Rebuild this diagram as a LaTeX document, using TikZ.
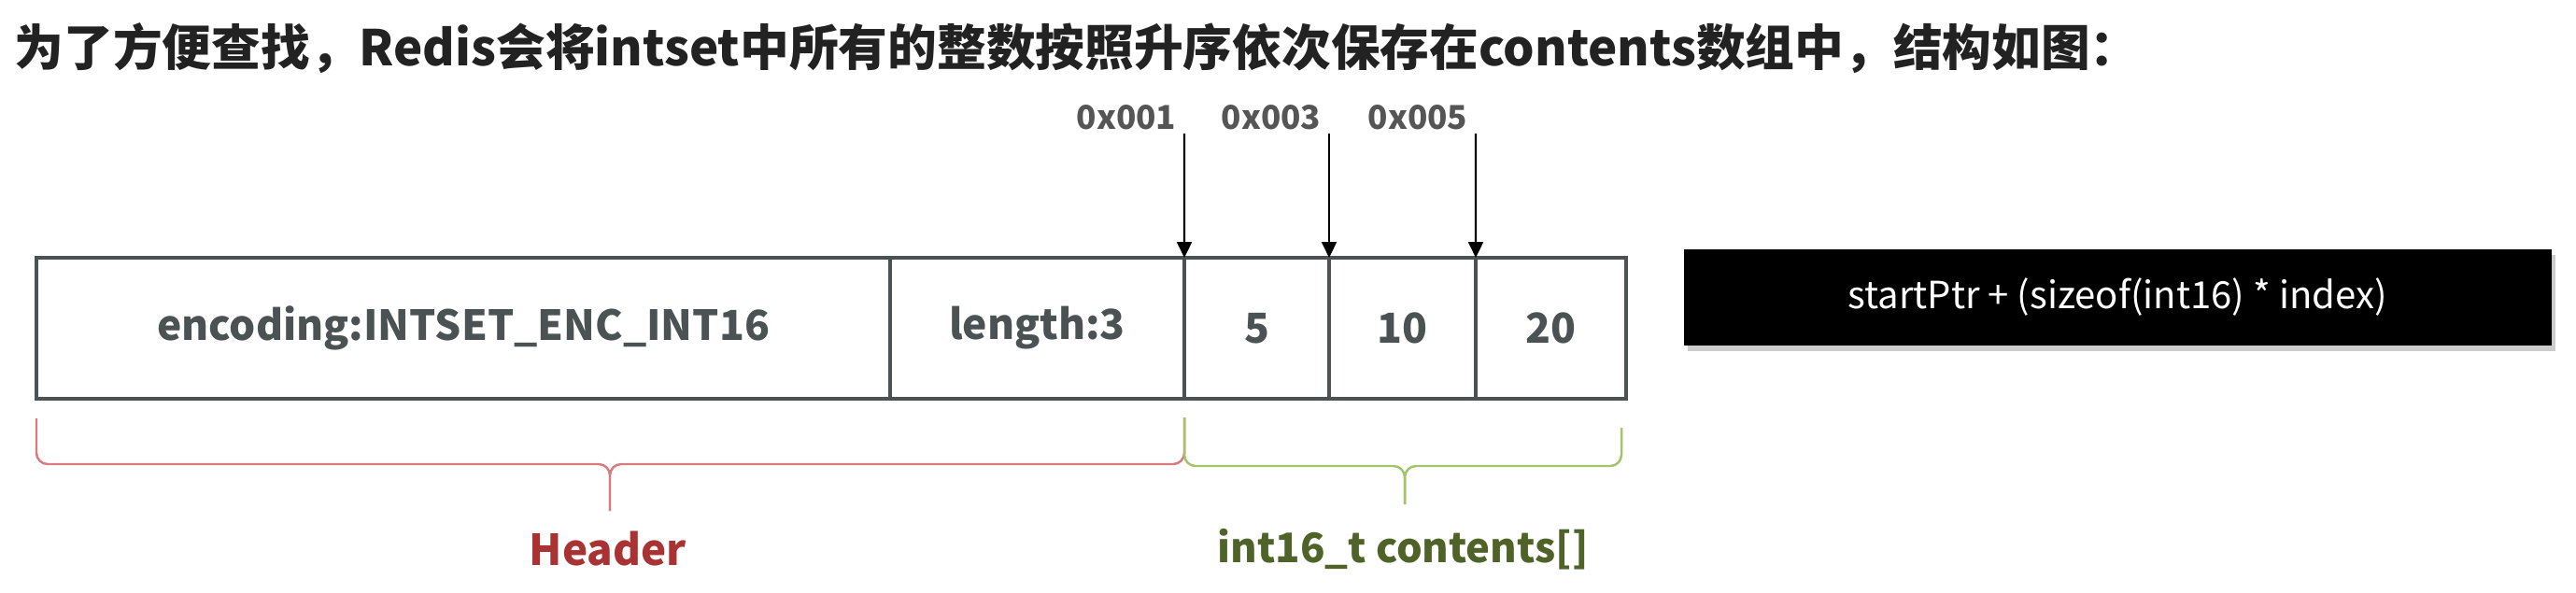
\documentclass[tikz,border=0pt]{standalone}
\usepackage{fontspec}
\setmainfont{Noto Sans CJK SC}
\usepackage{xcolor}
\usetikzlibrary{arrows.meta,shadows}
\definecolor{ink}{HTML}{222222}
\definecolor{frame}{HTML}{4B5253}
\definecolor{addr}{HTML}{555555}
\definecolor{hdrtext}{HTML}{A93232}
\definecolor{hdrline}{HTML}{D67C7E}
\definecolor{arrtext}{HTML}{4F6228}
\definecolor{arrline}{HTML}{A3C46A}

\begin{document}
\begin{tikzpicture}[
  cell/.style={draw=frame, line width=1.4pt, minimum height=1.51cm, inner sep=0pt, outer sep=0pt, text=frame, font=\bfseries\fontsize{12.6}{14}\selectfont},
  addrlbl/.style={anchor=base east, inner sep=0pt, text=addr, font=\bfseries\fontsize{10}{12}\selectfont},
  ptr/.style={-{Triangle[width=0.16cm,length=0.17cm]}, line width=0.6pt, black},
  brace/.style={line width=0.7pt, rounded corners=0.12cm}
]
  \useasboundingbox (0,0) rectangle (27.58,6.34);

  \node[anchor=west, inner sep=0pt, text=ink, font=\bfseries\fontsize{15}{17}\selectfont] (title) at (0.15,5.82) {为了方便查找，Redis会将intset中所有的整数按照升序依次保存在contents数组中，结构如图：};

  % intset layout
  \node[cell, minimum width=9.14cm] (enc) at (4.96,2.825) {encoding:INTSET\_ENC\_INT16};
  \node[cell, minimum width=3.15cm] (len) at (11.105,2.825) {length:3};
  \node[cell, minimum width=1.55cm] (v1) at (13.455,2.825) {5};
  \node[cell, minimum width=1.57cm] (v2) at (15.015,2.825) {10};
  \node[cell, minimum width=1.61cm] (v3) at (16.605,2.825) {20};

  % addresses
  \coordinate (p1) at (12.68,4.91);
  \coordinate (p2) at (14.23,4.91);
  \coordinate (p3) at (15.80,4.91);
  \node[addrlbl] (a1) at (12.60,4.96) {0x001};
  \node[addrlbl] (a2) at (14.15,4.96) {0x003};
  \node[addrlbl] (a3) at (15.72,4.96) {0x005};
  \draw[ptr] (p1) -- (v1.north west);
  \draw[ptr] (p2) -- (v2.north west);
  \draw[ptr] (p3) -- (v3.north west);

  % formula
  \node[fill=black, text=white, minimum width=9.29cm, minimum height=1.03cm, inner sep=0pt,
        font=\fontsize{11.4}{13}\selectfont,
        drop shadow={shadow xshift=0.04cm, shadow yshift=-0.06cm, fill=black!40}] (fml) at (22.67,3.16) {startPtr + (sizeof(int16) * index)};

  % braces
  \draw[brace, hdrline] (0.39,1.86) -- (0.39,1.37) -- (6.53,1.37) -- (6.53,0.87);
  \draw[brace, hdrline] (12.68,1.87) -- (12.68,1.37) -- (6.53,1.37) -- (6.53,0.87);
  \draw[brace, arrline] (12.68,1.87) -- (12.68,1.35) -- (15.04,1.35) -- (15.04,0.94);
  \draw[brace, arrline] (17.36,1.76) -- (17.36,1.35) -- (15.04,1.35) -- (15.04,0.94);

  \node[text=hdrtext, font=\bfseries\fontsize{13}{15}\selectfont] (hdr) at (6.51,0.46) {Header};
  \node[text=arrtext, font=\bfseries\fontsize{12.4}{15}\selectfont] (cnt) at (15.02,0.46) {int16\_t contents[]};
\end{tikzpicture}
\end{document}
